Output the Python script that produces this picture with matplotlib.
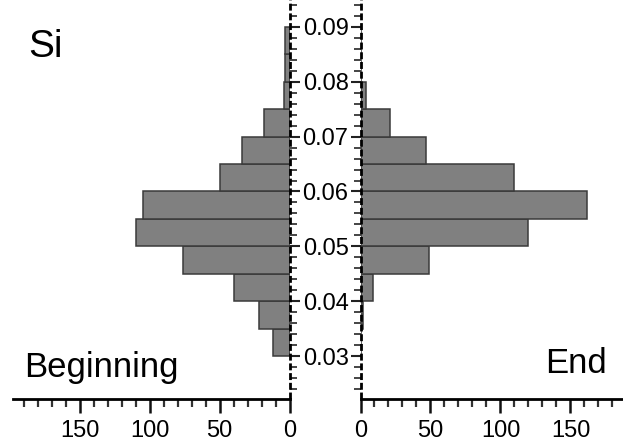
import numpy as np
import matplotlib
matplotlib.use('Agg')
import matplotlib.pyplot as plt
from matplotlib.ticker import MultipleLocator, FormatStrFormatter

plt.rcParams['font.family'] = ['Liberation Sans', 'DejaVu Sans']

# lower edge of each bin, bin width 0.005
bin_lo = [0.030, 0.035, 0.040, 0.045, 0.050, 0.055, 0.060, 0.065, 0.070, 0.075, 0.080, 0.085]
bin_width = 0.005
beginning = [12, 22, 40, 76, 110, 105, 50, 34, 18, 4, 3, 3]
end = [0, 2, 9, 49, 120, 162, 110, 47, 21, 4, 0, 0]
x_ticks = [0, 50, 100, 150]

W, H = 623, 444
fig = plt.figure(figsize=(W / 100, H / 100), dpi=100)

y_bot, y_top = 0.02216, 0.09492
xmax = 197.3
ax_w = (289.5 - 13.3) / W
ax_b = (H - 399) / H
ax_h = 1 - ax_b

ax_l = fig.add_axes([13.3 / W, ax_b, ax_w, ax_h])
ax_r = fig.add_axes([360.5 / W, ax_b, ax_w, ax_h])

bar_kw = dict(height=bin_width, align='edge', color='#808080', edgecolor='#3a3a3a', linewidth=1.1)
ax_l.barh(bin_lo, beginning, **bar_kw)
ax_r.barh(bin_lo, end, **bar_kw)

ax_l.set_xlim(xmax, 0)
ax_r.set_xlim(0, xmax)

dash = (0, (2.5, 1.0))
for ax, side, other in [(ax_l, 'right', 'left'), (ax_r, 'left', 'right')]:
    ax.set_ylim(y_bot, y_top)
    ax.spines['top'].set_visible(False)
    ax.spines[other].set_visible(False)
    ax.spines[side].set_linestyle(dash)
    ax.spines[side].set_linewidth(2)
    ax.spines[side].set_capstyle('butt')
    ax.spines['bottom'].set_linewidth(2)
    ax.set_xticks(x_ticks)
    ax.xaxis.set_minor_locator(MultipleLocator(10))
    ax.tick_params(axis='x', which='major', direction='out', length=10, width=1.8,
                   labelsize=17, pad=5, color='#111111')
    ax.tick_params(axis='x', which='minor', direction='out', length=6, width=1.6, color='#333333')
    ax.yaxis.set_major_locator(MultipleLocator(0.01))
    ax.yaxis.set_minor_locator(MultipleLocator(0.002))
    ax.set_facecolor('none')

ax_l.yaxis.tick_right()
ax_l.yaxis.set_major_formatter(FormatStrFormatter('%.2f'))
ax_l.tick_params(axis='y', which='major', direction='out', length=7, width=1.5,
                 labelsize=17, pad=19, color='#222222')
ax_l.tick_params(axis='y', which='minor', direction='out', length=5, width=1.4, color='#444444')
plt.setp(ax_l.get_yticklabels(), ha='center')

ax_r.yaxis.tick_left()
ax_r.tick_params(axis='y', which='major', direction='out', length=7, width=1.5,
                 labelleft=False, color='#222222')
ax_r.tick_params(axis='y', which='minor', direction='out', length=5, width=1.4, color='#444444')

fig.text(28 / W, 1 - 56.7 / H, 'Si', fontsize=28, va='baseline', ha='left')
fig.text(24 / W, 1 - 376.7 / H, 'Beginning', fontsize=25, va='baseline', ha='left')
fig.text(545 / W, 1 - 372.7 / H, 'End', fontsize=25, va='baseline', ha='left')

fig.savefig('out.png', dpi=100)
